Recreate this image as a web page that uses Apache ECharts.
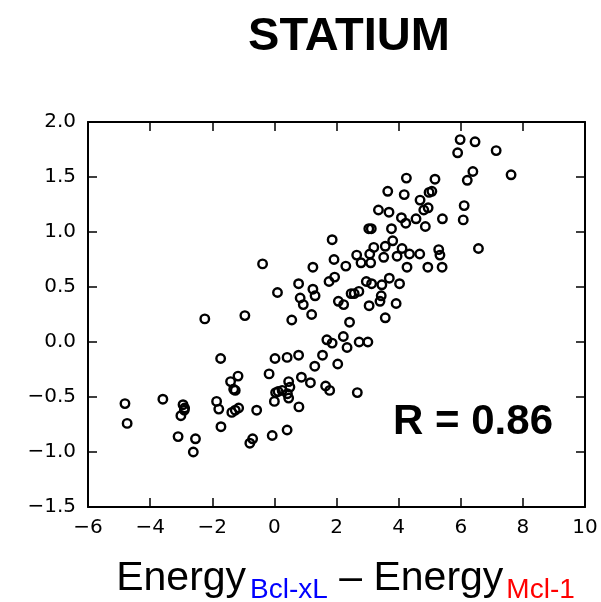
<!DOCTYPE html>
<html>
<head>
<meta charset="utf-8">
<title>STATIUM</title>
<script src="https://cdn.jsdelivr.net/npm/echarts@6/dist/echarts.min.js"></script>
<style>
  html, body { margin: 0; padding: 0; background: #fff; }
  #chart { width: 601px; height: 602px; }
</style>
</head>
<body>
<div id="chart"></div>
<script>
// Energy difference (Bcl-xL minus Mcl-1) for each peptide
const energyDiff = [
  5.98, 6.46, 5.90, 7.14, 7.62, 6.39, 6.21, 4.25, 5.17, 3.65,
  4.18, 4.98, 5.07, 4.69, 6.11, 6.08, 3.35, 3.69, 4.81, 4.95,
  4.09, 4.56, 4.23, 4.86, 5.41, 3.04, 3.12, 3.77, 3.81, 1.86,
  6.57, 5.29, 5.33, 3.20, 3.57, 4.11, 4.35, 4.68, 2.65, 3.07,
  2.79, 3.10, 3.52, 3.95, 2.30, 1.92, 4.27, 4.94, 5.40, 1.24,
  -0.38, 1.94, 1.76, 2.96, 3.13, 3.46, 3.70, 4.03, 0.78, 1.24,
  1.31, 0.10, 0.83, 0.93, 1.20, 2.06, 2.23, 2.47, 2.57, 2.72,
  3.05, 3.40, 3.44, 3.92, 3.57, 2.42, -2.24, -0.95, 0.56, 1.86,
  1.69, 2.22, 2.34, 2.73, 3.01, 2.04, 1.55, 0.78, 0.41, 0.02,
  1.30, -0.17, 0.87, 1.16, 0.46, 0.50, 1.65, 1.78, 2.67, 0.04,
  0.12, 0.25, 0.42, 0.46, 0.00, 0.79, -0.57, 0.41, -0.07, -0.70,
  -0.79, -1.73, -1.17, -1.41, -1.31, -1.26, -1.86, -1.79, -1.37, -1.26,
  -1.15, -1.72, -4.81, -4.74, -3.59, -2.94, -2.89, -2.90, -3.01, -3.10,
  -2.54, -2.61
];

// Measured specificity for the same peptides, in the same order
const measured = [
  1.84, 1.82, 1.72, 1.74, 1.52, 1.55, 1.47, 1.49, 1.48, 1.37,
  1.34, 1.36, 1.37, 1.29, 1.24, 1.11, 1.20, 1.18, 1.20, 1.22,
  1.13, 1.12, 1.08, 1.05, 1.12, 1.03, 1.03, 1.03, 0.92, 0.93,
  0.85, 0.84, 0.79, 0.86, 0.87, 0.85, 0.80, 0.80, 0.79, 0.80,
  0.72, 0.72, 0.77, 0.78, 0.69, 0.75, 0.68, 0.68, 0.68, 0.68,
  0.71, 0.59, 0.55, 0.55, 0.53, 0.52, 0.58, 0.53, 0.53, 0.48,
  0.42, 0.45, 0.40, 0.34, 0.25, 0.37, 0.34, 0.44, 0.44, 0.46,
  0.33, 0.37, 0.42, 0.35, 0.22, 0.18, 0.21, 0.24, 0.20, -0.01,
  0.02, 0.05, -0.05, 0.00, 0.00, -0.20, -0.12, -0.12, -0.14, -0.15,
  -0.22, -0.29, -0.32, -0.37, -0.36, -0.41, -0.40, -0.44, -0.46, -0.46,
  -0.45, -0.44, -0.47, -0.51, -0.54, -0.59, -0.62, -0.80, -0.85, -0.88,
  -0.92, -0.15, -0.31, -0.36, -0.43, -0.44, -0.54, -0.61, -0.64, -0.62,
  -0.60, -0.77, -0.56, -0.74, -0.52, -0.57, -0.60, -0.62, -0.67, -0.86,
  -0.88, -1.00
];

// Axis ranges and tick steps
const xRange = [-6, 10];
const xStep = 2;
const yRange = [-1.5, 2.0];
const yStep = 0.5;

const titleText = 'STATIUM';
const correlationText = 'R = 0.86';

const points = energyDiff.map((x, i) => [x, measured[i]]);

const minus = s => String(s).replace('-', '\u2212');
const tickFont = { fontFamily: 'DejaVu Sans', fontSize: 20, color: '#000' };
const spine = { show: true, onZero: false, lineStyle: { color: '#000', width: 2 } };
const ticks = { show: true, inside: true, length: 9, lineStyle: { color: '#000', width: 1.5 } };
const sans = 'Liberation Sans, Arial, sans-serif';

function xAxisDef(pos, labels) {
  return {
    type: 'value', position: pos, min: xRange[0], max: xRange[1], interval: xStep,
    axisLine: spine, axisTick: ticks, splitLine: { show: false },
    axisLabel: { show: labels, margin: 11, formatter: v => minus(v), ...tickFont }
  };
}
function yAxisDef(pos, labels) {
  return {
    type: 'value', position: pos, min: yRange[0], max: yRange[1], interval: yStep,
    axisLine: spine, axisTick: ticks, splitLine: { show: false },
    axisLabel: { show: labels, margin: 12, formatter: v => minus(v.toFixed(1)), ...tickFont }
  };
}

const chart = echarts.init(document.getElementById('chart'), null, { renderer: 'canvas' });
chart.setOption({
  animation: false,
  backgroundColor: '#fff',
  grid: { left: 88, right: 16, top: 122, bottom: 95, containLabel: false },
  xAxis: [xAxisDef('bottom', true), xAxisDef('top', false)],
  yAxis: [yAxisDef('left', true), yAxisDef('right', false)],
  series: [{
    type: 'scatter',
    data: points,
    symbol: 'circle',
    symbolSize: 8.5,
    itemStyle: { color: 'rgba(0,0,0,0)', borderColor: '#000', borderWidth: 2.4, opacity: 1 },
    emphasis: { disabled: true }
  }],
  graphic: [
    {
      type: 'text',
      style: {
        text: titleText, x: 349, y: 37, align: 'center', verticalAlign: 'middle',
        fontFamily: sans, fontWeight: 'bold', fontSize: 47, fill: '#000'
      }
    },
    {
      type: 'text',
      style: {
        text: correlationText, x: 553, y: 422.5, align: 'right', verticalAlign: 'middle',
        fontFamily: sans, fontWeight: 'bold', fontSize: 42, fill: '#000'
      }
    },
    {
      type: 'text',
      style: {
        text: '{m|Energy}{b|Bcl-xL}{m| \u2013 Energy}{r|Mcl-1}',
        x: 345.5, y: 604, align: 'center', verticalAlign: 'bottom',
        fontFamily: sans,
        rich: {
          m: { fontSize: 41, lineHeight: 40, fill: '#000', verticalAlign: 'bottom', padding: [0, 0, 5, 0],
               fontFamily: sans },
          b: { fontSize: 28, lineHeight: 26, fill: '#0000ff', verticalAlign: 'bottom', padding: [0, 0, 0, 4],
               fontFamily: sans },
          r: { fontSize: 28, lineHeight: 26, fill: '#ff0000', verticalAlign: 'bottom', padding: [0, 0, 0, 3],
               fontFamily: sans }
        }
      }
    }
  ]
});
</script>
</body>
</html>
